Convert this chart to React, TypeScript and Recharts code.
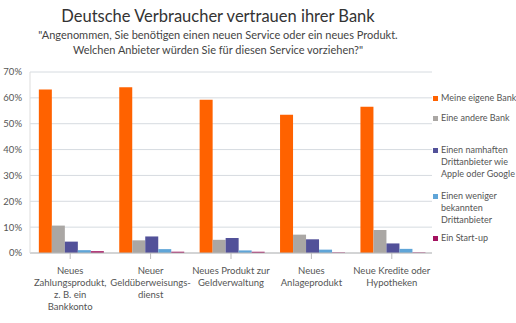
import { BarChart, Bar, XAxis, YAxis, CartesianGrid } from "recharts";

const categories = [
  "Neues\nZahlungsprodukt,\nz. B. ein\nBankkonto",
  "Neuer\nGeldüberweisungs-\ndienst",
  "Neues Produkt zur\nGeldverwaltung",
  "Neues\nAnlageprodukt",
  "Neue Kredite oder\nHypotheken",
];
const eigeneBank = [63.2, 64.1, 59.3, 53.5, 56.6];
const andereBank = [10.6, 4.9, 5.1, 7.1, 8.9];
const namhafte = [4.4, 6.4, 5.8, 5.3, 3.7];
const wenigerBekannte = [1.1, 1.5, 1.0, 1.3, 1.6];
const startUp = [0.7, 0.5, 0.5, 0.2, 0.2];
const yTicks = [0, 10, 20, 30, 40, 50, 60, 70];

const series = [
  { key: "eigene", label: "Meine eigene Bank", color: "#ff6200", values: eigeneBank },
  { key: "andere", label: "Eine andere Bank", color: "#aaa7a4", values: andereBank },
  { key: "namhaft", label: "Einen namhaften\nDrittanbieter wie\nApple oder Google", color: "#525199", values: namhafte },
  { key: "weniger", label: "Einen weniger\nbekannten\nDrittanbieter", color: "#5fa5d8", values: wenigerBekannte },
  { key: "startup", label: "Ein Start-up", color: "#a3115f", values: startUp },
];

const data = categories.map((name, i) => {
  const row: Record<string, string | number> = { name };
  series.forEach((s) => (row[s.key] = s.values[i]));
  return row;
});

const FONT = "Lato, 'Open Sans', sans-serif";

const CategoryTick = (props: any) => {
  const { x, y, payload } = props;
  const lines = String(payload.value).split("\n");
  return (
    <text x={x} y={y + 4} textAnchor="middle" fill="#555" fontSize={9.5} fontFamily={FONT}>
      {lines.map((l, i) => (
        <tspan key={i} x={x} dy={i === 0 ? 9 : 12}>
          {l}
        </tspan>
      ))}
    </text>
  );
};

const legendTops = [92, 112, 144, 190, 232];

const App = () => {
  return (
    <div style={{ position: "relative", width: 516, height: 323, background: "#fff", overflow: "hidden" }}>
      <style>{"body{margin:0}"}</style>
      <div
        style={{
          position: "absolute",
          top: 6,
          left: 0,
          width: 436,
          textAlign: "center",
          fontFamily: FONT,
          color: "#333",
          fontSize: 16.5,
        }}
      >
        Deutsche Verbraucher vertrauen ihrer Bank
      </div>
      <div
        style={{
          position: "absolute",
          top: 27,
          left: 0,
          width: 436,
          textAlign: "center",
          fontFamily: FONT,
          color: "#444",
          fontSize: 11,
          lineHeight: "15px",
        }}
      >
        "Angenommen, Sie benötigen einen neuen Service oder ein neues Produkt.
        <br />
        Welchen Anbieter würden Sie für diesen Service vorziehen?"
      </div>
      <div style={{ position: "absolute", top: 0, left: 0 }}>
        <BarChart
          width={516}
          height={323}
          data={data}
          margin={{ top: 72, right: 84, bottom: 0, left: 0 }}
          barCategoryGap="11%"
          barGap={0}
        >
          <CartesianGrid vertical={false} stroke="#d6dbe0" />
          <XAxis
            dataKey="name"
            interval={0}
            tick={<CategoryTick />}
            tickLine={{ stroke: "#bbb" }}
            axisLine={{ stroke: "#bbb" }}
            height={70}
          />
          <YAxis
            domain={[0, 70]}
            ticks={yTicks}
            width={30}
            tickFormatter={(v) => `${v}%`}
            tick={{ fill: "#555", fontSize: 9.5, fontFamily: FONT }}
            tickLine={false}
            axisLine={{ stroke: "#ddd" }}
          />
          {series.map((s) => (
            <Bar key={s.key} dataKey={s.key} fill={s.color} isAnimationActive={false} />
          ))}
        </BarChart>
      </div>
      {series.map((s, i) => (
        <div
          key={s.key}
          style={{
            position: "absolute",
            left: 433,
            top: legendTops[i],
            fontFamily: FONT,
            fontSize: 9,
            color: "#555",
            lineHeight: "12px",
            whiteSpace: "pre",
            display: "flex",
          }}
        >
          <span
            style={{
              display: "inline-block",
              width: 5,
              height: 5,
              background: s.color,
              marginTop: 4,
              marginRight: 3,
            }}
          />
          <span>{s.label}</span>
        </div>
      ))}
    </div>
  );
};

export default App;
